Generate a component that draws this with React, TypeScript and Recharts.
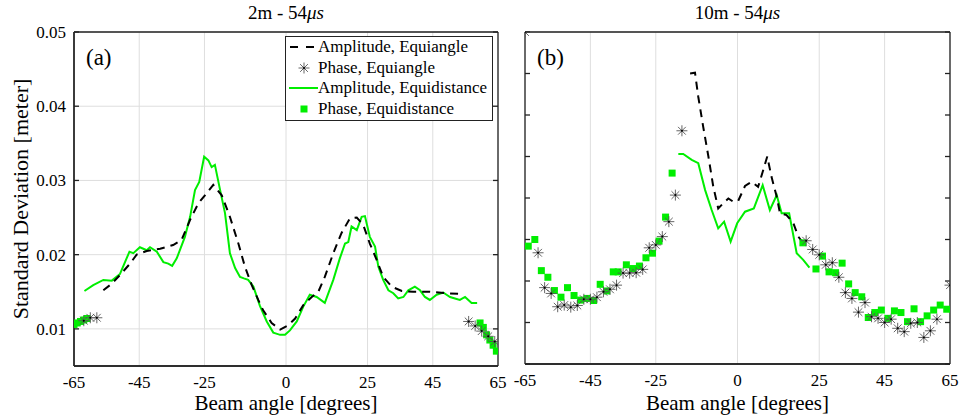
import React from 'react'
import { ComposedChart, Line, Scatter, XAxis, YAxis, CartesianGrid, Legend } from 'recharts'

const SERIF = "'Liberation Serif', 'Times New Roman', serif"
const GREEN = '#00ee00'
const GRID = '#dedede'
const AXIS = '#222'

// shared x axis
const angleTicks = [-65, -45, -25, 0, 25, 45, 65]
const leftYTicks = [0.01, 0.02, 0.03, 0.04, 0.05]
const rightYTicks = [0, 0.01, 0.02, 0.03, 0.04, 0.05, 0.06, 0.07, 0.08]

// (a) 2m - 54us
const aAmpEqaX = [-56, -53.4, -50.4, -47.8, -45.8, -42.7, -38.6, -34.6, -32, -29.4, -26.9, -24.3, -22.3, -19.7, -17.2, -14.6, -12.6, -10.5, -8.5, -7, -4.4, -1.8, 0.7, 2.8, 5.3, 7.9, 9.9, 11.9, 14.5, 17, 19.6, 21.7, 23.7, 25.7, 27.8, 29.8, 32.4, 35.5, 39, 44.1, 49.3, 53.9]
const aAmpEqaY = [0.0152, 0.0161, 0.0175, 0.0188, 0.02, 0.0205, 0.0208, 0.0213, 0.022, 0.0247, 0.0269, 0.0283, 0.0294, 0.028, 0.0251, 0.0215, 0.0184, 0.0159, 0.0139, 0.0125, 0.0108, 0.0099, 0.0105, 0.0114, 0.0132, 0.0143, 0.015, 0.017, 0.0202, 0.0229, 0.0249, 0.025, 0.024, 0.0215, 0.0193, 0.017, 0.0157, 0.0151, 0.015, 0.015, 0.0148, 0.0147]

const aAmpEqdX = [-61.8, -59.1, -56, -53.4, -50.9, -48, -46.8, -44.8, -42.7, -41.7, -39.6, -37.6, -36.1, -34.9, -33.5, -31, -29.4, -27.9, -26.6, -25.1, -23.8, -22.8, -21.8, -20.2, -18.7, -17.2, -15.6, -14.1, -12.9, -11.6, -10, -8, -5.9, -3.9, -1.8, -0.3, 1.2, 3.3, 5.3, 7.3, 9.4, 11.9, 14.5, 16.5, 18.1, 19.1, 20.1, 21.7, 23.2, 24.2, 25.7, 27.3, 28.3, 29.8, 31.4, 32.9, 34.4, 36, 37.5, 39.5, 41.1, 42.6, 44.1, 46.2, 48.2, 50.3, 51.8, 53.3, 54.9, 56.9, 58.6]
const aAmpEqdY = [0.0151, 0.0159, 0.0166, 0.0165, 0.0174, 0.0204, 0.0202, 0.021, 0.0206, 0.021, 0.0204, 0.019, 0.0188, 0.0185, 0.0195, 0.0224, 0.0251, 0.0287, 0.0298, 0.0332, 0.0327, 0.0318, 0.0321, 0.0287, 0.0256, 0.0202, 0.0182, 0.017, 0.0168, 0.0166, 0.0157, 0.0131, 0.011, 0.0095, 0.0092, 0.0092, 0.0098, 0.011, 0.013, 0.0146, 0.0143, 0.0135, 0.0166, 0.0195, 0.0215, 0.0217, 0.0238, 0.0233, 0.0251, 0.0252, 0.0224, 0.0211, 0.0184, 0.0166, 0.0152, 0.0148, 0.0141, 0.0143, 0.0152, 0.0157, 0.0152, 0.0143, 0.0139, 0.0146, 0.0149, 0.0143, 0.0141, 0.0139, 0.0143, 0.0135, 0.0135]

const aPhaseEqaX = [-62, -60, -58, 56, 58, 60, 62, 64]
const aPhaseEqaY = [0.0111, 0.0115, 0.0115, 0.011, 0.0104, 0.0097, 0.009, 0.0083]

const aPhaseEqdX = [-65, -64, -63, -62, -61, 59.5, 60.5, 61.5, 62.5, 63.5, 64.5]
const aPhaseEqdY = [0.0106, 0.0108, 0.011, 0.0112, 0.0114, 0.0108, 0.0102, 0.0092, 0.0085, 0.0078, 0.007]

// (b) 10m - 54us
const bAmpEqaX = [-14.5, -13, -12, -10.5, -8.9, -7.4, -5.9, -4.4, -2.8, -1.3, 0.2, 2.3, 4.3, 6.3, 7.9, 9.1, 10.4, 12, 13, 15, 17.1, 18.6, 20.1]
const bAmpEqaY = [0.07, 0.0702, 0.0644, 0.0572, 0.05, 0.0427, 0.0375, 0.0387, 0.0399, 0.0391, 0.0393, 0.0429, 0.0439, 0.0427, 0.0468, 0.05, 0.0451, 0.0403, 0.0363, 0.0359, 0.0339, 0.0307, 0.0291]

const bAmpEqdX = [-18.1, -16.6, -14, -12, -9.9, -7.9, -5.9, -4.1, -2.1, -0.1, 2.3, 5, 7.7, 9.9, 12, 13.5, 15.8, 18.1, 20.1, 22]
const bAmpEqdY = [0.0506, 0.0506, 0.0492, 0.0484, 0.0419, 0.0371, 0.0327, 0.0343, 0.0295, 0.0339, 0.0367, 0.0375, 0.0431, 0.0371, 0.0407, 0.0363, 0.0363, 0.0267, 0.0251, 0.0232]

const bPhaseEqaX = [-65, -61, -59, -57, -55, -53, -51, -49, -47, -45, -43, -41, -39, -37, -35, -33, -31, -29, -27, -25, -23, -21, -19, -17, 21, 23, 25, 27, 29, 31, 33, 35, 37, 39, 41, 43, 45, 47, 49, 51, 53, 55, 57, 59, 61, 65]
const bPhaseEqaY = [0.08, 0.0268, 0.0184, 0.017, 0.0138, 0.0142, 0.0137, 0.0141, 0.0156, 0.0156, 0.0161, 0.0174, 0.018, 0.019, 0.0219, 0.0219, 0.022, 0.0228, 0.028, 0.0287, 0.0307, 0.0343, 0.0407, 0.0562, 0.0297, 0.0276, 0.0263, 0.0239, 0.0244, 0.0209, 0.0172, 0.0158, 0.0125, 0.0148, 0.0114, 0.011, 0.01, 0.0108, 0.0086, 0.0078, 0.0098, 0.01, 0.0064, 0.008, 0.0108, 0.019]

const bPhaseEqdX = [-64, -62, -60, -58, -56, -54, -52, -50, -48, -46, -44, -42, -40, -38, -36.5, -34, -32, -30, -28, -26, -24, -22, -20, 20, 24, 26, 28, 30, 32, 34, 36, 38, 40, 42, 44, 46, 48, 50, 52, 54, 56, 58, 60, 62, 64]
const bPhaseEqdY = [0.0284, 0.03, 0.0225, 0.0209, 0.0177, 0.0161, 0.0184, 0.0165, 0.0154, 0.0158, 0.0153, 0.0192, 0.0176, 0.0222, 0.0222, 0.0239, 0.023, 0.0236, 0.0256, 0.0267, 0.0296, 0.0354, 0.046, 0.0292, 0.0229, 0.026, 0.0222, 0.022, 0.0243, 0.0193, 0.0172, 0.0162, 0.0112, 0.0124, 0.013, 0.011, 0.0128, 0.0124, 0.0102, 0.0133, 0.0102, 0.0116, 0.013, 0.0142, 0.0132]

const pts = (xs: number[], ys: number[]) => xs.map((x, i) => ({ x, y: ys[i] }))

const StarMark = (props: any) => {
  const { cx, cy } = props
  if (cx == null || cy == null) return <g />
  const r = 5.5
  const d = r * 0.707
  return (
    <g stroke="#555" strokeWidth={0.9}>
      <line x1={cx - r} y1={cy} x2={cx + r} y2={cy} />
      <line x1={cx} y1={cy - r} x2={cx} y2={cy + r} />
      <line x1={cx - d} y1={cy - d} x2={cx + d} y2={cy + d} />
      <line x1={cx - d} y1={cy + d} x2={cx + d} y2={cy - d} />
      <circle cx={cx} cy={cy} r={1} fill="#000" stroke="none" />
    </g>
  )
}

const SquareMark = (props: any) => {
  const { cx, cy } = props
  if (cx == null || cy == null) return <g />
  return <rect x={cx - 3.5} y={cy - 3.5} width={7} height={7} fill={GREEN} />
}

const LegendRow = ({ sample, text }: { sample: React.ReactNode; text: string }) => (
  <div style={{ display: 'flex', alignItems: 'center', height: 20.5 }}>
    <svg width={30} height={14} style={{ flex: 'none' }}>{sample}</svg>
    <span>{text}</span>
  </div>
)

const LegendBox = () => (
  <div style={{ border: `1.3px solid ${AXIS}`, background: '#fff', padding: '0 4px 1px 2px', fontFamily: SERIF, fontSize: 17, color: '#000', whiteSpace: 'nowrap' }}>
    <LegendRow text="Amplitude, Equiangle" sample={<line x1={2} y1={7} x2={30} y2={7} stroke="#000" strokeWidth={2} strokeDasharray="8 8" />} />
    <LegendRow text="Phase, Equiangle" sample={<StarMark cx={16} cy={7} />} />
    <LegendRow text="Amplitude, Equidistance" sample={<line x1={1} y1={7} x2={30} y2={7} stroke={GREEN} strokeWidth={2} />} />
    <LegendRow text="Phase, Equidistance" sample={<SquareMark cx={16} cy={7} />} />
  </div>
)

const tickFont = { fontFamily: SERIF, fontSize: 17, fill: '#000' }
const blank = () => ''

type PanelProps = {
  left: number
  width: number
  rightMargin: number
  yAxisWidth: number
  xAxisHeight: number
  yDomain: [number, number]
  yTicks: number[]
  showY: boolean
  title: string
  tag: string
  ampEqa: { x: number; y: number }[]
  ampEqd: { x: number; y: number }[]
  phaseEqa: { x: number; y: number }[]
  phaseEqd: { x: number; y: number }[]
  legend?: boolean
}

const Panel = (p: PanelProps) => {
  const plotLeft = p.yAxisWidth
  const plotWidth = p.width - p.yAxisWidth - p.rightMargin
  return (
    <div style={{ position: 'absolute', left: p.left, top: 0, width: p.width, height: 420, fontFamily: SERIF }}>
      <ComposedChart width={p.width} height={420} margin={{ top: 32, right: p.rightMargin, bottom: 0, left: 0 }}>
        <CartesianGrid stroke={GRID} strokeWidth={1} />
        <XAxis
          dataKey="x"
          type="number"
          domain={[-65, 65]}
          ticks={angleTicks}
          allowDataOverflow
          height={p.xAxisHeight}
          tick={tickFont}
          tickSize={0}
          tickMargin={10}
          tickLine={false}
          stroke={AXIS}
          strokeWidth={1.3}
          interval={0}
          label={{ value: 'Beam angle [degrees]', position: 'insideBottom', offset: 10, style: { fontFamily: SERIF, fontSize: 21, fill: '#000' } }}
        />
        <YAxis
          dataKey="y"
          type="number"
          domain={p.yDomain}
          ticks={p.yTicks}
          allowDataOverflow
          width={p.yAxisWidth}
          tick={p.showY ? tickFont : false}
          tickFormatter={(v: number) => v.toFixed(2)}
          tickSize={0}
          tickMargin={8}
          tickLine={false}
          axisLine={p.showY}
          stroke={AXIS}
          strokeWidth={1.3}
          interval={0}
          label={p.showY ? { value: 'Standard Deviation [meter]', angle: -90, position: 'insideLeft', offset: 20, style: { textAnchor: 'middle', fontFamily: SERIF, fontSize: 22, fill: '#000' } } : undefined}
        />
        {/* box and inward ticks */}
        <XAxis xAxisId="bot" orientation="bottom" mirror type="number" domain={[-65, 65]} ticks={angleTicks} allowDataOverflow tickFormatter={blank} tickSize={5} stroke={AXIS} strokeWidth={1.3} interval={0} />
        <XAxis xAxisId="top" orientation="top" mirror type="number" domain={[-65, 65]} ticks={angleTicks} allowDataOverflow tickFormatter={blank} tickSize={5} stroke={AXIS} strokeWidth={1.3} interval={0} />
        <YAxis yAxisId="l" orientation="left" mirror type="number" domain={p.yDomain} ticks={p.yTicks} allowDataOverflow tickFormatter={blank} tickSize={5} stroke={AXIS} strokeWidth={1.3} interval={0} />
        <YAxis yAxisId="r" orientation="right" mirror type="number" domain={p.yDomain} ticks={p.yTicks} allowDataOverflow tickFormatter={blank} tickSize={5} stroke={AXIS} strokeWidth={1.3} interval={0} />

        <Line data={p.ampEqd} dataKey="y" name="Amplitude, Equidistance" stroke={GREEN} strokeWidth={2} dot={false} isAnimationActive={false} />
        <Line data={p.ampEqa} dataKey="y" name="Amplitude, Equiangle" stroke="#000" strokeWidth={2} strokeDasharray="8 6" dot={false} isAnimationActive={false} />
        <Scatter data={p.phaseEqd} name="Phase, Equidistance" shape={<SquareMark />} isAnimationActive={false} />
        <Scatter data={p.phaseEqa} name="Phase, Equiangle" shape={<StarMark />} isAnimationActive={false} />
        {p.legend && (
          <Legend
            layout="vertical"
            align="center"
            verticalAlign="middle"
            content={() => <LegendBox />}
            wrapperStyle={{ left: 285, top: 36, width: 208, height: 'auto' }}
          />
        )}
      </ComposedChart>
      <div style={{ position: 'absolute', left: plotLeft, top: 2, width: plotWidth, textAlign: 'center', fontSize: 19, lineHeight: '22px' }}>
        {p.title} - 54<i>μs</i>
      </div>
      <div style={{ position: 'absolute', left: plotLeft + 12, top: 44, fontSize: 23, lineHeight: '28px' }}>{p.tag}</div>
    </div>
  )
}

export default function App() {
  return (
    <div style={{ position: 'absolute', left: 0, top: 0, width: 960, height: 420, background: '#fff' }}>
      <Panel
        left={0}
        width={512}
        rightMargin={14}
        yAxisWidth={74}
        xAxisHeight={54}
        yDomain={[0.005, 0.05]}
        yTicks={leftYTicks}
        showY
        title="2m"
        tag="(a)"
        ampEqa={pts(aAmpEqaX, aAmpEqaY)}
        ampEqd={pts(aAmpEqdX, aAmpEqdY)}
        phaseEqa={pts(aPhaseEqaX, aPhaseEqaY)}
        phaseEqd={pts(aPhaseEqdX, aPhaseEqdY)}
        legend
      />
      <Panel
        left={512}
        width={448}
        rightMargin={10}
        yAxisWidth={13}
        xAxisHeight={56}
        yDomain={[0, 0.08]}
        yTicks={rightYTicks}
        showY={false}
        title="10m"
        tag="(b)"
        ampEqa={pts(bAmpEqaX, bAmpEqaY)}
        ampEqd={pts(bAmpEqdX, bAmpEqdY)}
        phaseEqa={pts(bPhaseEqaX, bPhaseEqaY)}
        phaseEqd={pts(bPhaseEqdX, bPhaseEqdY)}
      />
    </div>
  )
}
